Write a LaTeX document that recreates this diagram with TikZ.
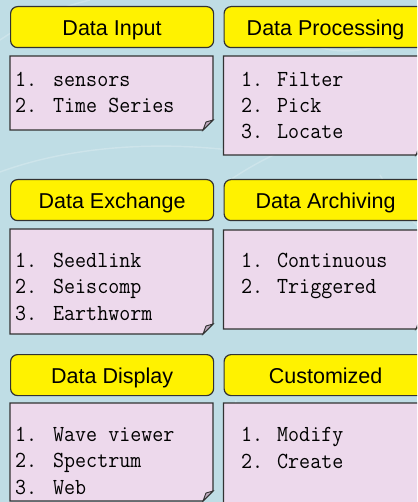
\documentclass[tikz,border=0pt]{standalone}
\usepackage{fontspec}
\usepackage{graphicx}
\newfontfamily\hdfont{Liberation Sans}
\definecolor{bg}{RGB}{191,221,229}
\definecolor{bodyfill}{RGB}{237,217,236}
\definecolor{foldfill}{RGB}{190,170,190}
\definecolor{edge}{RGB}{50,50,50}
\tikzset{
  header/.style={draw=edge, line width=1.2pt, fill=yellow, rounded corners=7pt,
    minimum width=203pt, inner sep=0pt, text height=29pt, text depth=12pt,
    anchor=north west, font=\hdfont\fontsize{21.5pt}{24pt}\selectfont},
  bodybox/.style={draw=edge, line width=1.2pt, fill=bodyfill},
  foldbox/.style={draw=edge, line width=0.9pt, fill=foldfill},
  item/.style={anchor=base west, inner sep=0pt, font=\fontsize{23pt}{26pt}\selectfont\ttfamily},
  swoosh/.style={white, opacity=0.22, line width=1.4pt}
}
\newcommand{\mono}[1]{\scalebox{0.93}[1]{#1}}
% body with folded corner: #1 x1, #2 y1, #3 x2, #4 y2
\newcommand{\notebody}[4]{%
  \path[bodybox] (#1,#2) -- (#3,#2) -- (#3,#4-10) -- (#3-10,#4) -- (#1,#4) -- cycle;
  \path[foldbox] (#3-10,#4) -- (#3,#4-10) -- (#3-7,#4-8) -- cycle;}
\begin{document}
\begin{tikzpicture}[x=1pt, y=-1pt]
\useasboundingbox (0,0) rectangle (417,502);
\clip (0,0) rectangle (417,502);
\fill[bg] (0,0) rectangle (417,502);
% faint background swooshes
\draw[swoosh] (0,172) .. controls (60,150) and (140,140) .. (230,150);
\draw[swoosh] (230,180) .. controls (260,160) and (290,145) .. (330,135);
\draw[swoosh] (0,40) .. controls (30,20) and (50,10) .. (90,0);
\draw[swoosh] (240,502) .. controls (235,470) and (232,440) .. (236,400);
\draw[swoosh] (300,40) .. controls (340,60) and (380,50) .. (417,30);
\draw[swoosh] (380,175) .. controls (395,200) and (405,215) .. (417,225);

% ---- Row 1 ----
\node[header] (hin) at (10,6) {Data Input};
\node[header] (hproc) at (223.5,6) {Data Processing};
\notebody{10}{56}{213}{130}
\notebody{223.5}{56}{426}{155}
\node[item] (in1n) at (15,87) {\mono{1.}};
\node[item] (in1t) at (53,87) {\mono{sensors}};
\node[item] (in2n) at (15,113) {\mono{2.}};
\node[item] (in2t) at (53,113) {\mono{Time Series}};
\node[item] (pr1n) at (241,87) {\mono{1.}};
\node[item] (pr1t) at (277,87) {\mono{Filter}};
\node[item] (pr2n) at (241,113) {\mono{2.}};
\node[item] (pr2t) at (277,113) {\mono{Pick}};
\node[item] (pr3n) at (241,138.5) {\mono{3.}};
\node[item] (pr3t) at (277,138.5) {\mono{Locate}};

% ---- Row 2 ----
\node[header] (hex) at (10,179) {Data Exchange};
\node[header] (harc) at (223.5,179) {Data Archiving};
\notebody{10}{229}{213}{334}
\notebody{223.5}{230}{426}{329}
\node[item] (ex1n) at (15,267) {\mono{1.}};
\node[item] (ex1t) at (53,267) {\mono{Seedlink}};
\node[item] (ex2n) at (15,293) {\mono{2.}};
\node[item] (ex2t) at (53,293) {\mono{Seiscomp}};
\node[item] (ex3n) at (15,320) {\mono{3.}};
\node[item] (ex3t) at (53,320) {\mono{Earthworm}};
\node[item] (ar1n) at (241,267) {\mono{1.}};
\node[item] (ar1t) at (277,267) {\mono{Continuous}};
\node[item] (ar2n) at (241,293) {\mono{2.}};
\node[item] (ar2t) at (277,293) {\mono{Triggered}};

% ---- Row 3 ----
\node[header] (hdis) at (10,354) {Data Display};
\node[header] (hcus) at (223.5,354) {Customized};
\notebody{10}{403}{213}{501}
\notebody{223.5}{403}{426}{512}
\node[item] (di1n) at (15,441) {\mono{1.}};
\node[item] (di1t) at (53,441) {\mono{Wave viewer}};
\node[item] (di2n) at (15,467) {\mono{2.}};
\node[item] (di2t) at (53,467) {\mono{Spectrum}};
\node[item] (di3n) at (15,494) {\mono{3.}};
\node[item] (di3t) at (53,494) {\mono{Web}};
\node[item] (cu1n) at (241,441) {\mono{1.}};
\node[item] (cu1t) at (277,441) {\mono{Modify}};
\node[item] (cu2n) at (241,468) {\mono{2.}};
\node[item] (cu2t) at (277,468) {\mono{Create}};
\end{tikzpicture}
\end{document}
